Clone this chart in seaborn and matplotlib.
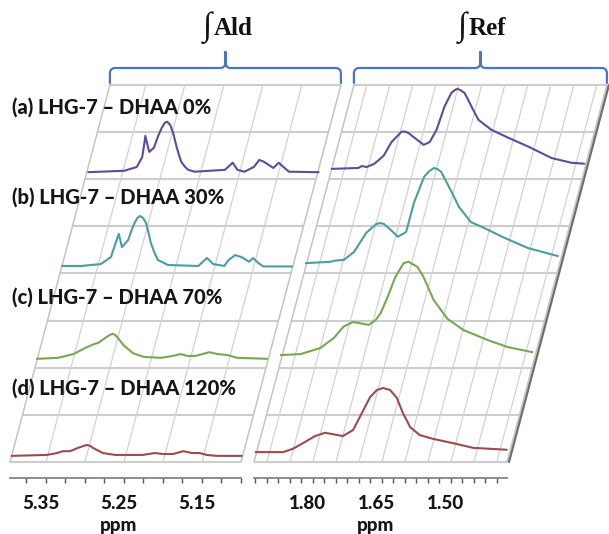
import numpy as np
import pandas as pd
import matplotlib
matplotlib.use("Agg")
import matplotlib.pyplot as plt
import seaborn as sns
from matplotlib.transforms import Affine2D, ScaledTranslation, IdentityTransform

# ---------------- data ----------------
labels = ["(a) LHG-7 \u2013 DHAA 0%", "(b) LHG-7 \u2013 DHAA 30%",
          "(c) LHG-7 \u2013 DHAA 70%", "(d) LHG-7 \u2013 DHAA 120%"]
colors = ["#5f4b9b", "#4b9d9f", "#76a852", "#9b4c4c"]
offsets = [6.15, 4.15, 2.15, 0.13]          # stacking level of each spectrum

# aldehyde region (left panel)
ald_a_ppm = [5.394, 5.348, 5.332, 5.325, 5.322, 5.321, 5.318, 5.316, 5.310, 5.305, 5.300, 5.296, 5.293, 5.289,
             5.285, 5.281, 5.277, 5.275, 5.270, 5.266, 5.258,
             5.219, 5.209, 5.203, 5.194, 5.182, 5.175, 5.169, 5.157, 5.150, 5.144, 5.137, 5.099]
ald_a_int = [0.00, 0.03, 0.11, 0.32, 0.64, 0.77, 0.56, 0.43, 0.52, 0.75, 0.94, 1.05, 1.07, 1.00,
             0.81, 0.54, 0.32, 0.22, 0.11, 0.05, 0.01,
             0.05, 0.20, 0.05, 0.01, 0.11, 0.26, 0.22, 0.09, 0.20, 0.11, 0.01, 0.00]
ald_b_ppm = [5.396, 5.371, 5.346, 5.333, 5.327, 5.323, 5.319, 5.311, 5.307, 5.303, 5.299, 5.296, 5.292, 5.288,
             5.285, 5.282, 5.277, 5.273, 5.260,
             5.221, 5.210, 5.202, 5.188, 5.182, 5.174, 5.166, 5.156, 5.151, 5.144, 5.138, 5.101]
ald_b_int = [0.01, 0.01, 0.05, 0.20, 0.50, 0.69, 0.41, 0.56, 0.75, 0.92, 1.03, 1.07, 1.03, 0.92,
             0.72, 0.50, 0.28, 0.14, 0.03,
             0.01, 0.18, 0.05, 0.01, 0.14, 0.24, 0.20, 0.10, 0.18, 0.07, 0.00, 0.00]
ald_c_ppm = [5.396, 5.369, 5.349, 5.334, 5.323, 5.317, 5.307, 5.302, 5.299, 5.296, 5.293, 5.285, 5.273, 5.259, 5.237,
             5.222, 5.212, 5.203, 5.193, 5.184, 5.175, 5.164, 5.152, 5.139, 5.101]
ald_c_int = [0.04, 0.06, 0.14, 0.27, 0.35, 0.38, 0.50, 0.55, 0.57, 0.55, 0.50, 0.33, 0.16, 0.08, 0.06,
             0.10, 0.14, 0.10, 0.10, 0.14, 0.18, 0.14, 0.12, 0.06, 0.04]
ald_d_ppm = [5.396, 5.351, 5.338, 5.330, 5.321, 5.311, 5.302, 5.299, 5.295, 5.292, 5.279, 5.263, 5.228, 5.213, 5.202,
             5.189, 5.176, 5.165, 5.155, 5.146, 5.133, 5.101]
ald_d_int = [0.00, 0.02, 0.06, 0.10, 0.10, 0.17, 0.22, 0.23, 0.21, 0.17, 0.06, 0.02, 0.02, 0.06, 0.04,
             0.04, 0.10, 0.06, 0.06, 0.02, 0.00, 0.00]

# reference region (right panel)
ref_a_ppm = [1.926, 1.868, 1.861, 1.850, 1.833, 1.813, 1.796, 1.785, 1.774, 1.766, 1.759, 1.746, 1.726, 1.713, 1.698,
             1.681, 1.666, 1.659, 1.653, 1.646, 1.637, 1.622, 1.607, 1.579, 1.542, 1.498, 1.448, 1.405, 1.377]
ref_a_int = [0.07, 0.09, 0.13, 0.11, 0.18, 0.35, 0.64, 0.75, 0.86, 0.86, 0.83, 0.73, 0.58, 0.64, 0.90,
             1.39, 1.68, 1.74, 1.77, 1.74, 1.68, 1.39, 1.11, 0.90, 0.73, 0.54, 0.30, 0.20, 0.18]
ref_b_ppm = [1.928, 1.873, 1.867, 1.845, 1.823, 1.797, 1.775, 1.766, 1.758, 1.743, 1.728, 1.710, 1.693, 1.671,
             1.660, 1.649, 1.641, 1.634, 1.619, 1.608, 1.595, 1.569, 1.541, 1.497, 1.445, 1.380]
ref_b_int = [0.07, 0.10, 0.12, 0.14, 0.31, 0.71, 0.90, 0.92, 0.90, 0.77, 0.63, 0.73, 1.35, 1.90,
             2.02, 2.09, 2.06, 2.01, 1.73, 1.52, 1.26, 0.94, 0.82, 0.61, 0.39, 0.22]
ref_c_ppm = [1.928, 1.885, 1.842, 1.813, 1.792, 1.772, 1.759, 1.737, 1.722, 1.711, 1.696, 1.679, 1.661, 1.650,
             1.642, 1.631, 1.618, 1.596, 1.566, 1.531, 1.479, 1.435, 1.381]
ref_c_int = [0.12, 0.14, 0.27, 0.48, 0.72, 0.82, 0.80, 0.76, 0.86, 1.01, 1.35, 1.78, 2.07, 2.10,
             2.05, 1.99, 1.78, 1.29, 0.89, 0.65, 0.44, 0.29, 0.18]
ref_d_ppm = [1.928, 1.868, 1.847, 1.825, 1.799, 1.777, 1.760, 1.738, 1.716, 1.697, 1.679, 1.664, 1.651, 1.636,
             1.621, 1.608, 1.592, 1.571, 1.542, 1.499, 1.455, 1.382]
ref_d_int = [0.08, 0.08, 0.15, 0.27, 0.42, 0.49, 0.46, 0.42, 0.55, 0.91, 1.25, 1.40, 1.44, 1.40,
             1.23, 0.91, 0.61, 0.44, 0.36, 0.27, 0.17, 0.13]

ald_ppm = [ald_a_ppm, ald_b_ppm, ald_c_ppm, ald_d_ppm]
ald_int = [ald_a_int, ald_b_int, ald_c_int, ald_d_int]
ref_ppm = [ref_a_ppm, ref_b_ppm, ref_c_ppm, ref_d_ppm]
ref_int = [ref_a_int, ref_b_int, ref_c_int, ref_d_int]

ald_lim = (5.396, 5.100)
ref_lim = (1.928, 1.378)
ald_grid = [5.35, 5.30, 5.25, 5.20, 5.15]
ref_grid = [1.90, 1.85, 1.80, 1.75, 1.70, 1.65, 1.60, 1.55, 1.50, 1.45, 1.40]
ald_ticks = [5.35, 5.25, 5.15]
ref_ticks = [1.80, 1.65, 1.50]
ald_minor = [5.375, 5.325, 5.30, 5.275, 5.225, 5.20, 5.175, 5.125, 5.10]
ref_minor = [1.925, 1.90, 1.875, 1.85, 1.825, 1.775, 1.75, 1.725, 1.70, 1.675, 1.625, 1.60,
             1.575, 1.55, 1.525, 1.475, 1.45, 1.425, 1.40]
n_levels = 8
slant = 0.265   # horizontal shift per vertical pixel of the oblique view

# ---------------- figure ----------------
sns.set_theme(style="white")
plt.rcParams["font.family"] = ["Lato", "DejaVu Sans"]

W, H = 609, 534
fig = plt.figure(figsize=(W / 100, H / 100), dpi=100)
fig.patch.set_facecolor("white")

def px_rect(x0, x1, ybot, ytop):
    return [x0 / W, (H - ybot) / H, (x1 - x0) / W, (ybot - ytop) / H]

ax_l = fig.add_axes(px_rect(10, 241, 478, 85))
ax_r = fig.add_axes(px_rect(254, 507, 478, 85))

ymin = -(478 - 462) / 47.12

def setup(ax, lim):
    ax.set_xlim(*lim)
    ax.set_ylim(ymin, n_levels)
    ax.set_facecolor("none")

setup(ax_l, ald_lim)
setup(ax_r, ref_lim)

def draw_panel(ax, lim, grid, ppms, ints, major, minor, xlabel_x):
    y0d = ax.transData.transform((lim[0], 0))[1]
    per_unit = ax.transData.transform((lim[0], 1))[1] - y0d
    skew = Affine2D().translate(0, -y0d).skew(np.arctan(slant), 0).translate(0, y0d)
    gtrans = ax.transData + skew
    # horizontal grid lines
    for j in range(n_levels + 1):
        ax.plot([lim[0], lim[1]], [j, j], color="#cdcdcd", lw=1.5, transform=gtrans,
                clip_on=False, zorder=1, solid_capstyle="butt")
    # oblique grid lines
    for p in grid:
        ax.plot([p, p], [0, n_levels], color="#d2d2d2", lw=0.9, transform=gtrans,
                clip_on=False, zorder=1)
    for p in lim:
        ax.plot([p, p], [0, n_levels], color="#c4c4c4", lw=1.1, transform=gtrans,
                clip_on=False, zorder=1)
    # spectra
    for k in range(4):
        shift = slant * offsets[k] * per_unit
        t = ax.transData + Affine2D().translate(shift, 0)
        df = pd.DataFrame({"ppm": ppms[k], "y": np.array(ints[k]) + offsets[k]})
        sns.lineplot(data=df, x="ppm", y="y", ax=ax, color=colors[k], lw=1.5,
                     sort=False, estimator=None, transform=t, clip_on=False, zorder=3,
                     solid_joinstyle="round", solid_capstyle="round")
    ax.set_xlim(*lim)
    ax.set_ylim(ymin, n_levels)
    for s in ["top", "left", "right"]:
        ax.spines[s].set_visible(False)
    ax.spines["bottom"].set_color("#7a7a7a")
    ax.spines["bottom"].set_linewidth(1.2)
    ax.set_yticks([])
    ax.set_ylabel("")
    ax.set_xticks(major)
    ax.set_xticks(minor, minor=True)
    ax.set_xticklabels([f"{v:.2f}" for v in major], fontsize=13.5, fontweight="black", color="#151515")
    ax.tick_params(axis="x", which="both", direction="out", length=3.5, width=1,
                   color="#555555", bottom=True, pad=9)
    for lab in ax.get_xticklabels():
        lab.set_transform(lab.get_transform() + ScaledTranslation(-5 / 100, 0, fig.dpi_scale_trans))
    ax.set_xlabel("ppm", fontsize=13.5, fontweight="black", color="#151515")
    ax.xaxis.set_label_coords(xlabel_x, -(526 - 478) / 393)
    ax.xaxis.label.set_va("center")
    ax.grid(False)
    return gtrans, per_unit

g_l, pu_l = draw_panel(ax_l, ald_lim, ald_grid, ald_ppm, ald_int, ald_ticks, ald_minor, 0.468)
g_r, pu_r = draw_panel(ax_r, ref_lim, ref_grid, ref_ppm, ref_int, ref_ticks, ref_minor, 0.482)

# dark side edge of the right plane
ax_r.plot([ref_lim[1], ref_lim[1]], [0, n_levels], color="#6e6e6e", lw=1.6,
          transform=g_r + Affine2D().translate(2, 0), clip_on=False, zorder=2)

# ---------------- braces and headers ----------------
def brace(ax, lim, per_unit, title):
    top_shift = slant * n_levels * per_unit
    X0 = ax.transData.transform((lim[0], n_levels))[0] + top_shift
    X1 = ax.transData.transform((lim[1], n_levels))[0] + top_shift
    Xm = 0.5 * (X0 + X1)
    ytop = ax.transData.transform((lim[0], n_levels))[1]
    yh = ytop + 17
    yend = ytop + 2
    ytip = yh + 16
    r = 5
    th = np.linspace(0, np.pi / 2, 12)
    xs, ys = [], []
    xs += [X0]; ys += [yend]
    xs += list(X0 + r - r * np.cos(th)); ys += list(yh - r + r * np.sin(th))
    xs += list(Xm - r + r * np.sin(th)); ys += list(yh + r - r * np.cos(th))
    xs += [Xm]; ys += [ytip]
    xs += list(Xm + r - r * np.sin(th[::-1])); ys += list(yh + r - r * np.cos(th[::-1]))
    xs += list(X1 - r + r * np.cos(th[::-1])); ys += list(yh - r + r * np.sin(th[::-1]))
    xs += [X1]; ys += [yend]
    fig.add_artist(plt.Line2D(xs, ys, transform=IdentityTransform(), color="#4a74c4", lw=1.6))
    fig.text((Xm - 14) / W, (yh + 40) / H, "\u222b", ha="right", va="center", fontsize=24,
             family=["Liberation Serif", "DejaVu Serif"], color="#111111")
    fig.text((Xm - 12) / W, (yh + 39) / H, title, ha="left", va="center", fontsize=18,
             fontweight="bold", family=["Liberation Serif", "DejaVu Serif"], color="#111111")

brace(ax_l, ald_lim, pu_l, "Ald")
brace(ax_r, ref_lim, pu_r, "Ref")

# ---------------- sample labels ----------------
label_y = [107, 197, 297, 388]
for lab, yy in zip(labels, label_y):
    fig.text(12 / W, 1 - yy / H, lab, ha="left", va="center", fontsize=14.5,
             fontweight="black", color="#151515")

fig.savefig("out.png", dpi=100, facecolor="white")
